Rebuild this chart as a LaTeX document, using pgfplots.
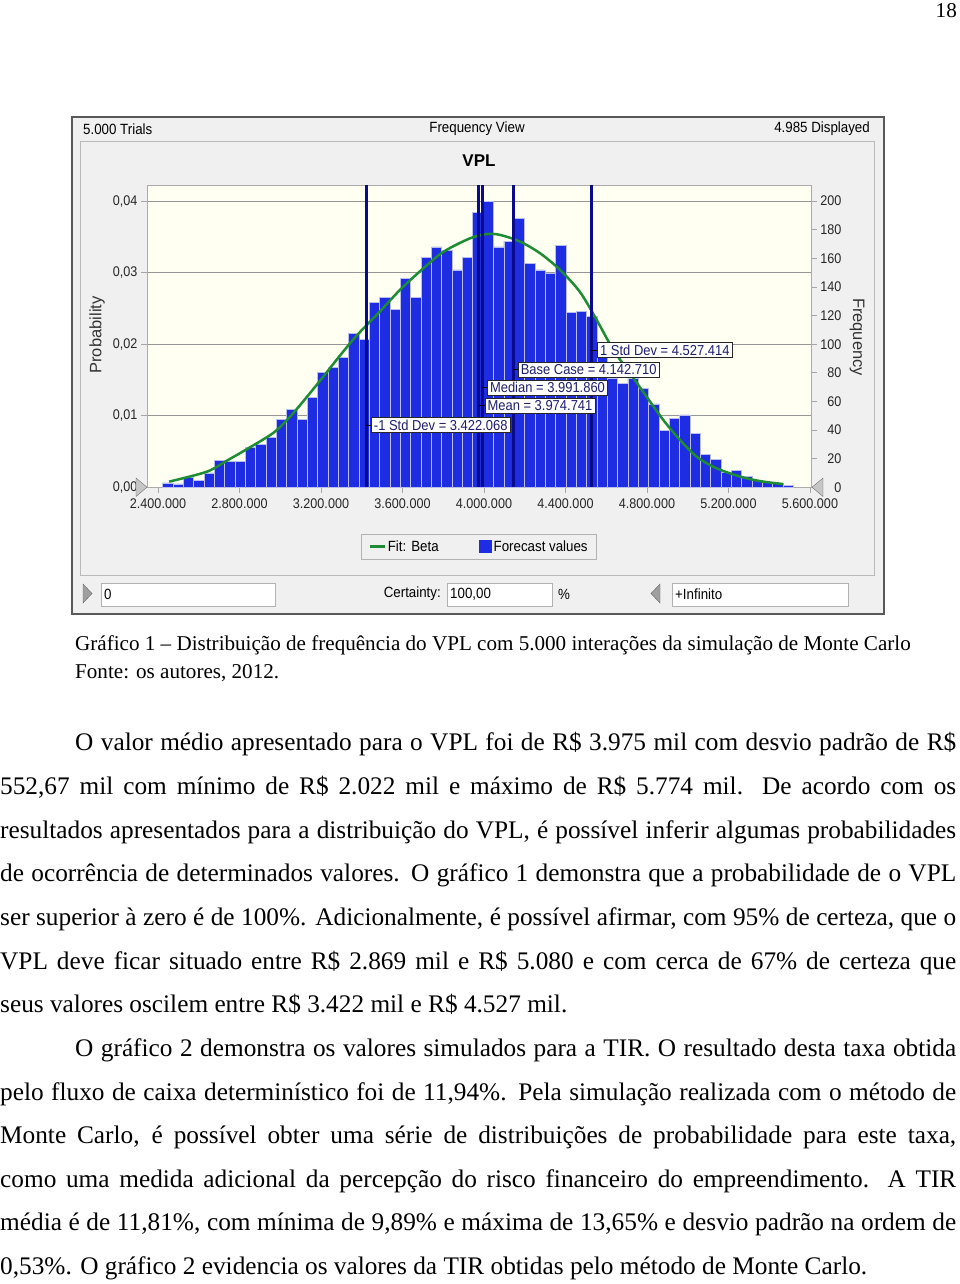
\documentclass[border=0pt]{standalone}
\usepackage{pgfplots}
\pgfplotsset{compat=1.18}
\usepackage{fontspec}
\setmainfont{Liberation Serif}
\newfontfamily\cb[FakeStretch=0.9]{Liberation Sans}
\newfontfamily\cbl{Liberation Sans}
\definecolor{chartbg}{RGB}{240,240,240}
\definecolor{plotbg}{RGB}{255,255,242}
\definecolor{barblue}{RGB}{30,45,225}
\definecolor{baredge}{RGB}{185,190,238}
\definecolor{navy}{RGB}{10,10,140}
\definecolor{fitgreen}{RGB}{30,140,50}
\definecolor{gridgray}{RGB}{150,150,150}
\definecolor{labtext}{RGB}{30,30,110}
\newcommand{\cf}{\cb\fontsize{14}{16}\selectfont}
\newcommand{\lf}{\cb\fontsize{14.8}{16}\selectfont}
\newcommand{\bodyf}{\fontsize{25.3}{30}\selectfont}
\newcommand{\capf}{\fontsize{21.1}{26}\selectfont}

\pgfplotstableread{
x y
2448.4 3
2499.1 2.3
2549.9 7
2600.6 5
2651.4 10
2702.1 19
2752.9 18
2803.6 18
2854.4 28
2905.1 30
2955.9 34.5
3006.6 47.5
3057.4 54.5
3108.1 47.5
3158.9 63
3209.6 80
3260.4 83.5
3311.1 90.5
3361.9 107.7
3412.6 103
3463.4 129
3514.1 132.8
3564.9 124.4
3615.6 146
3666.4 132.8
3717.1 160.8
3767.9 168
3818.6 165.4
3869.4 151.9
3920.1 160.8
3970.9 192.4
4021.6 200
4072.4 168
4123.1 172
4173.9 188
4224.6 156.6
4275.4 151.9
4326.1 149.6
4376.9 169
4427.6 122
4478.4 123.2
4529.1 119.7
4579.9 98
4630.6 76.1
4681.4 72.6
4732.1 76.1
4782.9 69.1
4833.6 58.2
4884.4 39.5
4935.1 48.2
4985.9 50.5
5036.6 37.7
5087.4 23.2
5138.1 19.5
5188.9 10.6
5239.6 12
5290.4 7.4
5341.1 5
5391.9 3.2
5442.6 2.7
5493.4 1.5
}\bars

\pgfplotstableread{
x y
2455 3.9
2639 10.8
2737 18.5
2835 26.5
2966 38
3048 49.3
3130 63
3211 77.3
3293 92
3375 106
3490 123
3588 138
3694 152
3800 164.5
3931 174
4013 177
4079 176.4
4177 171.7
4275 163.6
4373 152
4471 136.5
4553 117
4635 96
4717 79.6
4798 63.3
4880 47
4962 33
5044 21.3
5125 14.3
5207 9.7
5289 6.2
5371 3.9
5469 2.2
}\fit

\begin{document}
\begin{tikzpicture}
\begin{scope}[x=1pt,y=-1pt]
\path[use as bounding box] (0,0) rectangle (960,1284);
\fill[white] (0,0) rectangle (960,1284);
% page number
\node[anchor=base east, inner sep=0, font=\capf] at (957,18) {18};
% chart frame
\draw[fill=chartbg, draw=black!65, line width=1.6pt] (72,117) rectangle (884,614);
\draw[draw=gray!55, line width=0.8pt] (80.5,141) rectangle (874,575.7);
\node[anchor=west, inner sep=0, font=\lf] at (83,129) {5.000 Trials};
\node[inner sep=0, font=\lf] at (477,129) {Frequency View};
\node[anchor=east, inner sep=0, font=\lf] at (870,129) {4.985 Displayed};
\node[inner sep=0, font=\cbl\bfseries\fontsize{17}{20}\selectfont] at (479,161) {VPL};
\node[rotate=90, inner sep=0, font=\cbl\fontsize{16.5}{18}\selectfont, text=black!80] at (97,335) {Probability};
\node[rotate=-90, inner sep=0, font=\cbl\fontsize{16.5}{18}\selectfont, text=black!80] at (857,337) {Frequency};
% certainty row
\fill[gray!75, draw=black!60] (83,584) -- (92,593.5) -- (83,603) -- cycle;
\draw[fill=white, draw=gray!60] (101,583) rectangle (275,606);
\node[anchor=west, inner sep=0, font=\lf] at (104,594) {0};
\node[anchor=east, inner sep=0, font=\lf] at (441,594) {Certainty:};
\draw[fill=white, draw=gray!60] (447,583) rectangle (552,606);
\node[anchor=west, inner sep=0, font=\lf] at (450,594) {100,00};
\node[inner sep=0, font=\lf] at (564,594) {\%};
\fill[gray!75, draw=black!60] (660,584) -- (651,593.5) -- (660,603) -- cycle;
\draw[fill=white, draw=gray!60] (672,583) rectangle (848,606);
\node[anchor=west, inner sep=0, font=\lf] at (675,594) {+Infinito};
% caption
\node[anchor=base west, inner sep=0, font=\capf] at (75,650) {Gráfico 1 -- Distribuição de frequência do VPL com 5.000 interações da simulação de Monte Carlo};
\node[anchor=base west, inner sep=0, font=\capf] at (75,678) {Fonte: os autores, 2012.};
% body
\begin{scope}[every node/.style={anchor=base west, inner sep=0, font=\bodyf}]
\node at (75,750) {\makebox[881pt][s]{O valor médio apresentado para o VPL foi de R\$ 3.975 mil com desvio padrão de R\$}};
\node at (0,794) {\makebox[956pt][s]{552,67 mil com mínimo de R\$ 2.022 mil e máximo de R\$ 5.774 mil. De acordo com os}};
\node at (0,838) {\makebox[956pt][s]{resultados apresentados para a distribuição do VPL, é possível inferir algumas probabilidades}};
\node at (0,881) {\makebox[956pt][s]{de ocorrência de determinados valores. O gráfico 1 demonstra que a probabilidade de o VPL}};
\node at (0,925) {\makebox[956pt][s]{ser superior à zero é de 100\%. Adicionalmente, é possível afirmar, com 95\% de certeza, que o}};
\node at (0,969) {\makebox[956pt][s]{VPL deve ficar situado entre R\$ 2.869 mil e R\$ 5.080 e com cerca de 67\% de certeza que}};
\node at (0,1012) {seus valores oscilem entre R\$ 3.422 mil e R\$ 4.527 mil.};
\node at (75,1056) {\makebox[881pt][s]{O gráfico 2 demonstra os valores simulados para a TIR. O resultado desta taxa obtida}};
\node at (0,1100) {\makebox[956pt][s]{pelo fluxo de caixa determinístico foi de 11,94\%. Pela simulação realizada com o método de}};
\node at (0,1143) {\makebox[956pt][s]{Monte Carlo, é possível obter uma série de distribuições de probabilidade para este taxa,}};
\node at (0,1187) {\makebox[956pt][s]{como uma medida adicional da percepção do risco financeiro do empreendimento. A TIR}};
\node at (0,1230) {\makebox[956pt][s]{média é de 11,81\%, com mínima de 9,89\% e máxima de 13,65\% e desvio padrão na ordem de}};
\node at (0,1274) {0,53\%. O gráfico 2 evidencia os valores da TIR obtidas pelo método de Monte Carlo.};
\end{scope}
\end{scope}

% probability axis (left)
\begin{axis}[
  at={(147pt,-487.2pt)}, anchor=south west,
  width=664pt, height=302.2pt, scale only axis,
  xmin=2346, xmax=5605, ymin=0, ymax=0.04227,
  axis background/.style={fill=plotbg},
  axis line style={draw=gray!65, line width=0.8pt},
  xtick={2400,2800,3200,3600,4000,4400,4800,5200,5600},
  xticklabels={2.400.000,2.800.000,3.200.000,3.600.000,4.000.000,4.400.000,4.800.000,5.200.000,5.600.000},
  ytick={0,0.01,0.02,0.03,0.04},
  yticklabels={{0,00},{0,01},{0,02},{0,03},{0,04}},
  xtick pos=bottom, ytick pos=left,
  tick align=outside,
  major tick length=6pt,
  tick style={draw=gray!70, line width=0.8pt},
  ymajorgrids, grid style={draw=gridgray, line width=0.8pt},
  tick label style={font=\cf, text=black!85},
  xticklabel style={yshift=-2pt},
  scaled ticks=false,
]
\end{axis}

% frequency axis (right) with data
\begin{axis}[
  at={(147pt,-487.2pt)}, anchor=south west,
  width=664pt, height=302.2pt, scale only axis,
  xmin=2346, xmax=5605, ymin=0, ymax=211.3,
  axis line style={draw=gray!65, line width=0.8pt},
  xtick=\empty,
  ytick={0,20,...,200},
  ytick pos=right, yticklabel pos=right,
  tick align=outside,
  major tick length=6pt,
  tick style={draw=gray!70, line width=0.8pt},
  tick label style={font=\cf, text=black!85, /pgf/number format/assume math mode=true},
  yticklabel style={anchor=east, xshift=28pt},
  legend style={at={(0.5,-0.196)}, anchor=center, draw=gray!60, fill=chartbg,
    font=\lf, legend columns=2, inner xsep=7pt, inner ysep=4.5pt,
    /tikz/every even column/.append style={column sep=38pt}},
  legend image code/.code={\draw[#1] (0pt,0pt) -- (15pt,0pt);},
]
\addlegendimage{fitgreen, line width=2.5pt}
\addlegendentry{Fit: Beta}
\addlegendimage{area legend, fill=barblue, draw=none, /pgfplots/legend image code/.code={\fill[barblue] (0pt,-6.5pt) rectangle (13pt,6.5pt);}}
\addlegendentry{Forecast values}
\addplot[forget plot, ybar, bar width=50.75, bar shift=0pt, fill=barblue, draw=baredge, line width=0.8pt] table[x=x,y=y] {\bars};
\addplot[forget plot, fitgreen, line width=2.5pt, smooth, tension=0.5] table[x=x,y=y] {\fit};
\addplot[forget plot, navy, line width=3pt] coordinates {(3422.068,0) (3422.068,211.3)};
\addplot[forget plot, navy, line width=3pt] coordinates {(3974.741,0) (3974.741,211.3)};
\addplot[forget plot, navy, line width=3pt] coordinates {(3991.860,0) (3991.860,211.3)};
\addplot[forget plot, navy, line width=3pt] coordinates {(4142.710,0) (4142.710,211.3)};
\addplot[forget plot, navy, line width=3pt] coordinates {(4527.414,0) (4527.414,211.3)};
\tikzset{lab/.style={draw=black!85, fill=white, inner xsep=2.5pt, inner ysep=2.2pt, text=labtext, font=\cb\fontsize{14.4}{16}\selectfont, anchor=west}}
\draw[black] (axis cs:3422.068,43.5) -- ([xshift=5pt]axis cs:3422.068,43.5);
\node[lab] at ([xshift=5pt]axis cs:3422.068,43.5) {-1 Std Dev = 3.422.068};
\draw[black] (axis cs:3974.741,57.1) -- ([xshift=6pt]axis cs:3974.741,57.1);
\node[lab] at ([xshift=6pt]axis cs:3974.741,57.1) {Mean = 3.974.741};
\draw[black] (axis cs:3991.860,69.7) -- ([xshift=5pt]axis cs:3991.860,69.7);
\node[lab] at ([xshift=5pt]axis cs:3991.860,69.7) {Median = 3.991.860};
\draw[black] (axis cs:4142.710,82.3) -- ([xshift=5pt]axis cs:4142.710,82.3);
\node[lab] at ([xshift=5pt]axis cs:4142.710,82.3) {Base Case = 4.142.710};
\draw[black] (axis cs:4527.414,95.9) -- ([xshift=6pt]axis cs:4527.414,95.9);
\node[lab] at ([xshift=6pt]axis cs:4527.414,95.9) {1 Std Dev = 4.527.414};
\end{axis}

% certainty grabbers at the ends of the x axis
\begin{scope}[x=1pt,y=-1pt]
\fill[gray!45, draw=black!55] (136,478) -- (147,487.2) -- (136,496.5) -- cycle;
\fill[gray!45, draw=black!55] (823,478) -- (812,487.2) -- (823,496.5) -- cycle;
\end{scope}
\end{tikzpicture}
\end{document}
